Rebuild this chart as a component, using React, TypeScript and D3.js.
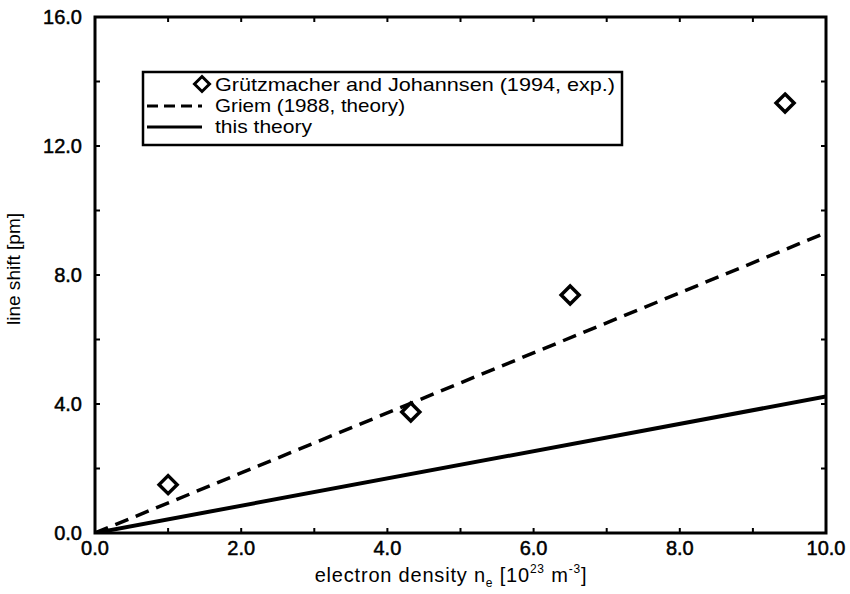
import React from "react";
import * as d3 from "d3";

const expX = [1.0, 4.32, 6.5, 9.44];
const expY = [1.5, 3.75, 7.38, 13.33];
const griemX = [0, 10];
const griemY = [0, 9.31];
const thisX = [0, 10];
const thisY = [0, 4.23];
const xMajor = [0, 2, 4, 6, 8, 10];
const xMinor = [0, 1, 2, 3, 4, 5, 6, 7, 8, 9, 10];
const yMajor = [0, 4, 8, 12, 16];
const yMinor = [0, 2, 4, 6, 8, 10, 12, 14, 16];
const legendLabels = [
  "Grützmacher and Johannsen (1994, exp.)",
  "Griem (1988, theory)",
  "this theory",
];
const legendWidths = [400, 190, 97];

export default function App() {
  const L = 95, R = 826, T = 17, B = 533;
  const x = d3.scaleLinear().domain([0, 10]).range([L, R]);
  const y = d3.scaleLinear().domain([0, 16]).range([B, T]);
  const line = d3.line<[number, number]>().x(d => x(d[0])).y(d => y(d[1]));
  const griem = line(griemX.map((v, i) => [v, griemY[i]]) as [number, number][]) || "";
  const mine = line(thisX.map((v, i) => [v, thisY[i]]) as [number, number][]) || "";
  const diamond = (cx: number, cy: number, r: number) =>
    `M${cx},${cy - r}L${cx + r},${cy}L${cx},${cy + r}L${cx - r},${cy}Z`;
  const font = "'Liberation Sans', Arial, Helvetica, sans-serif";
  return (
    <svg width={850} height={594} style={{ position: "absolute", left: 0, top: 0, background: "#fff" }}>
      <rect x={0} y={0} width={850} height={594} fill="#fff" />
      <defs>
        <clipPath id="clip"><rect x={L} y={T} width={R - L} height={B - T} /></clipPath>
      </defs>
      <g clipPath="url(#clip)">
        <path d={griem} stroke="#000" strokeWidth={3.5} fill="none" strokeDasharray="14 8" />
        <path d={mine} stroke="#000" strokeWidth={4} fill="none" />
      </g>
      {expX.map((v, i) => (
        <path key={i} d={diamond(x(v), y(expY[i]), 9)} fill="#fff" stroke="#000" strokeWidth={3.5} />
      ))}
      {xMinor.map(v => (
        <g key={"xm" + v}>
          <line x1={x(v)} x2={x(v)} y1={B} y2={B - 5} stroke="#000" strokeWidth={2} />
          <line x1={x(v)} x2={x(v)} y1={T} y2={T + 5} stroke="#000" strokeWidth={2} />
        </g>
      ))}
      {yMinor.map(v => (
        <g key={"ym" + v}>
          <line x1={L} x2={L + 5} y1={y(v)} y2={y(v)} stroke="#000" strokeWidth={2} />
          <line x1={R} x2={R - 5} y1={y(v)} y2={y(v)} stroke="#000" strokeWidth={2} />
        </g>
      ))}
      <rect x={L} y={T} width={R - L} height={B - T} fill="none" stroke="#000" strokeWidth={3} />
      {xMajor.map(v => (
        <text key={"xl" + v} x={x(v)} y={555} textAnchor="middle" fontFamily={font} fontSize={20}
          stroke="#000" strokeWidth={0.5}>{v.toFixed(1)}</text>
      ))}
      {yMajor.map(v => (
        <text key={"yl" + v} x={82} y={y(v) + 7} textAnchor="end" fontFamily={font} fontSize={20}
          stroke="#000" strokeWidth={0.5}>{v.toFixed(1)}</text>
      ))}
      <text x={451} y={582} textAnchor="middle" fontFamily={font} fontSize={20} letterSpacing={0.8}>
        electron density n<tspan fontSize={12} dy={5}>e</tspan>
        <tspan dy={-5}> [10</tspan><tspan fontSize={12} dy={-9}>23</tspan>
        <tspan dy={9}> m</tspan><tspan fontSize={12} dy={-9}>-3</tspan><tspan dy={9}>]</tspan>
      </text>
      <text transform={`translate(20,269) rotate(-90)`} textAnchor="middle" fontFamily={font} fontSize={19}
        textLength={112} lengthAdjust="spacingAndGlyphs">
        line shift [pm]
      </text>
      <rect x={143} y={72} width={479} height={73} fill="#fff" stroke="#000" strokeWidth={2.5} />
      <path d={diamond(202, 84, 7.5)} fill="#fff" stroke="#000" strokeWidth={3} />
      <line x1={147} x2={202} y1={106} y2={106} stroke="#000" strokeWidth={3} strokeDasharray="11 6" />
      <line x1={147} x2={202} y1={127} y2={127} stroke="#000" strokeWidth={3} />
      {legendLabels.map((t, i) => (
        <text key={t} x={215} y={91 + i * 21} fontFamily={font} fontSize={19}
          textLength={legendWidths[i]} lengthAdjust="spacingAndGlyphs">{t}</text>
      ))}
    </svg>
  );
}
